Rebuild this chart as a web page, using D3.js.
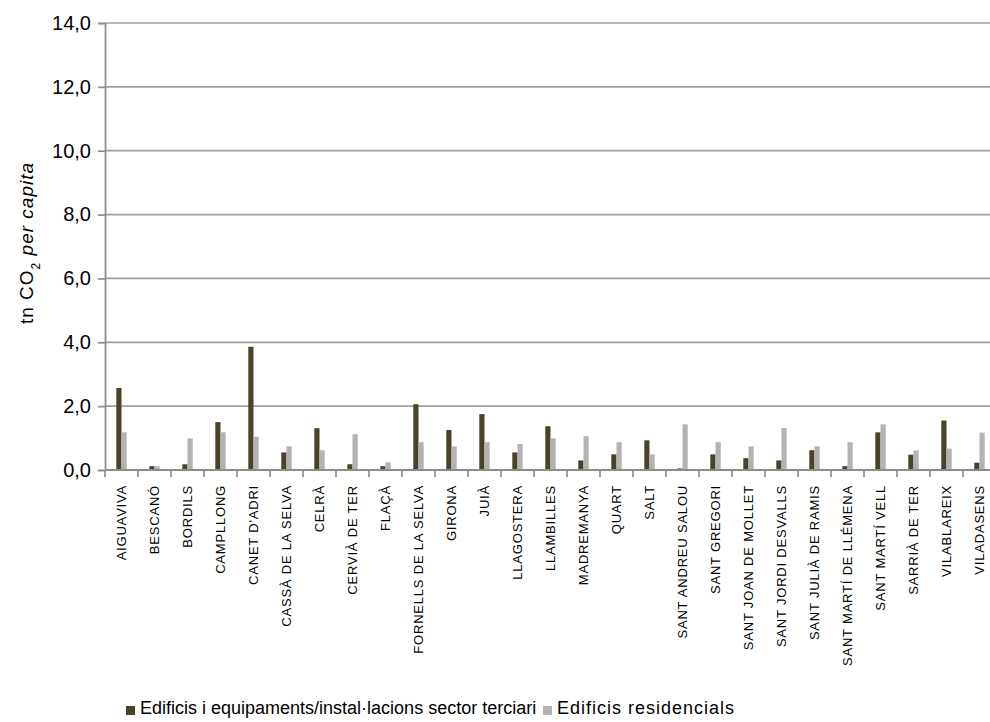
<!DOCTYPE html>
<html>
<head>
<meta charset="utf-8">
<script src="https://cdn.jsdelivr.net/npm/d3@7"></script>
<style>
  body { margin: 0; background: #fff; }
  svg { display: block; font-family: "Liberation Sans", Arial, sans-serif; }
</style>
</head>
<body>
<div id="chart"></div>
<script>
//
// data
//
var municipis = ["AIGUAVIVA", "BESCANÓ", "BORDILS", "CAMPLLONG", "CANET D'ADRI",
  "CASSÀ DE LA SELVA", "CELRÀ", "CERVIÀ DE TER", "FLAÇÀ", "FORNELLS DE LA SELVA",
  "GIRONA", "JUIÀ", "LLAGOSTERA", "LLAMBILLES", "MADREMANYA", "QUART", "SALT",
  "SANT ANDREU SALOU", "SANT GREGORI", "SANT JOAN DE MOLLET", "SANT JORDI DESVALLS",
  "SANT JULIÀ DE RAMIS", "SANT MARTÍ DE LLÉMENA", "SANT MARTÍ VELL", "SARRIÀ DE TER",
  "VILABLAREIX", "VILADASENS"];

var terciari = [2.57, 0.12, 0.18, 1.50, 3.86, 0.55, 1.31, 0.18, 0.12, 2.06,
  1.25, 1.75, 0.55, 1.37, 0.30, 0.49, 0.93, 0.05, 0.49, 0.37, 0.30, 0.62,
  0.12, 1.18, 0.48, 1.55, 0.23];

var residencial = [1.18, 0.12, 0.99, 1.18, 1.04, 0.74, 0.62, 1.12, 0.24, 0.87,
  0.74, 0.87, 0.81, 0.99, 1.06, 0.87, 0.49, 1.43, 0.87, 0.74, 1.31, 0.74,
  0.87, 1.43, 0.61, 0.67, 1.17];

var series = ["Edificis i equipaments/instal·lacions sector terciari", "Edificis residencials"];
var colors = ["#4a4329", "#b3b3b3"];
var yTicks = [0, 2, 4, 6, 8, 10, 12, 14];

var W = 990, H = 722;
var margin = {top: 23, bottom: 470, left: 105, right: 996};

var svg = d3.select("#chart").append("svg")
  .attr("width", W)
  .attr("height", H);

svg.append("rect").attr("width", W).attr("height", H).attr("fill", "#fff");

//
// scales
//
var x = d3.scaleBand().domain(municipis).range([margin.left, margin.right]);
var xs = d3.scaleBand().domain([0, 1]).range([x.bandwidth() / 2 - 5.2, x.bandwidth() / 2 + 5.2]);
var y = d3.scaleLinear().domain([0, 14]).range([margin.bottom, margin.top]);

//
// gridlines
//
svg.append("g").selectAll("line")
  .data(yTicks.filter(function(d) { return d > 0; }))
  .enter().append("line")
  .attr("x1", margin.left).attr("x2", margin.right)
  .attr("y1", function(d) { return y(d); })
  .attr("y2", function(d) { return y(d); })
  .attr("stroke", "#a0a0a0")
  .attr("stroke-width", 1.7);

//
// y axis
//
var yAxis = svg.append("g")
  .attr("transform", "translate(" + margin.left + ",0)")
  .call(d3.axisLeft(y).tickValues(yTicks).tickSize(7).tickPadding(7)
    .tickFormat(function(d) { return d3.format(".1f")(d).replace(".", ","); }));
yAxis.select(".domain").attr("stroke", "#8c8c8c").attr("stroke-width", 1.7);
yAxis.selectAll(".tick line").attr("stroke", "#8c8c8c").attr("stroke-width", 1.7);
yAxis.selectAll("text").style("font-size", "20px").attr("fill", "#000")
  .style("font-family", "'Liberation Sans', Arial, sans-serif");

//
// bars
//
var groups = svg.append("g").selectAll("g")
  .data(municipis)
  .enter().append("g")
  .attr("transform", function(d) { return "translate(" + x(d) + ",0)"; });

groups.selectAll("rect")
  .data(function(d, i) { return [terciari[i], residencial[i]]; })
  .enter().append("rect")
  .attr("x", function(d, j) { return xs(j); })
  .attr("width", xs.bandwidth())
  .attr("y", function(d) { return y(d); })
  .attr("height", function(d) { return y(0) - y(d); })
  .attr("fill", function(d, j) { return colors[j]; });

//
// x axis: line, boundary ticks, rotated labels
//
svg.append("line")
  .attr("x1", margin.left).attr("x2", margin.right)
  .attr("y1", y(0)).attr("y2", y(0))
  .attr("stroke", "#8c8c8c").attr("stroke-width", 1.8);

var bounds = municipis.map(function(d) { return x(d); }).concat([x.range()[1]]);
svg.append("g").selectAll("line")
  .data(bounds)
  .enter().append("line")
  .attr("x1", function(d) { return d; }).attr("x2", function(d) { return d; })
  .attr("y1", y(0)).attr("y2", y(0) + 7)
  .attr("stroke", "#8c8c8c").attr("stroke-width", 1.7);

svg.append("g").selectAll("text")
  .data(municipis)
  .enter().append("text")
  .attr("transform", function(d) {
    return "translate(" + (x(d) + x.bandwidth() / 2) + "," + (y(0) + 15) + ") rotate(-90)";
  })
  .attr("text-anchor", "end")
  .attr("dy", "0.36em")
  .style("font-size", "13px")
  .style("letter-spacing", "0.8px")
  .text(function(d) { return d; });

//
// y axis title
//
var ttl = svg.append("text")
  .attr("transform", "translate(33,243) rotate(-90)")
  .attr("text-anchor", "middle")
  .style("font-size", "19px")
  .style("letter-spacing", "1px");
ttl.append("tspan").text("tn CO");
ttl.append("tspan").attr("baseline-shift", "sub").style("font-size", "12px").text("2");
ttl.append("tspan").style("font-style", "italic").text(" per capita");

//
// legend
//
var legX = [126, 543];
var leg = svg.append("g").selectAll("g")
  .data(series)
  .enter().append("g")
  .attr("transform", function(d, i) { return "translate(" + legX[i] + ",706)"; });
leg.append("rect").attr("width", 9).attr("height", 9)
  .attr("fill", function(d, i) { return colors[i]; });
leg.append("text").attr("x", 14).attr("y", 8)
  .style("font-size", "18px")
  .style("letter-spacing", function(d, i) { return i === 1 ? "1px" : "0px"; })
  .text(function(d) { return d; });
</script>
</body>
</html>
